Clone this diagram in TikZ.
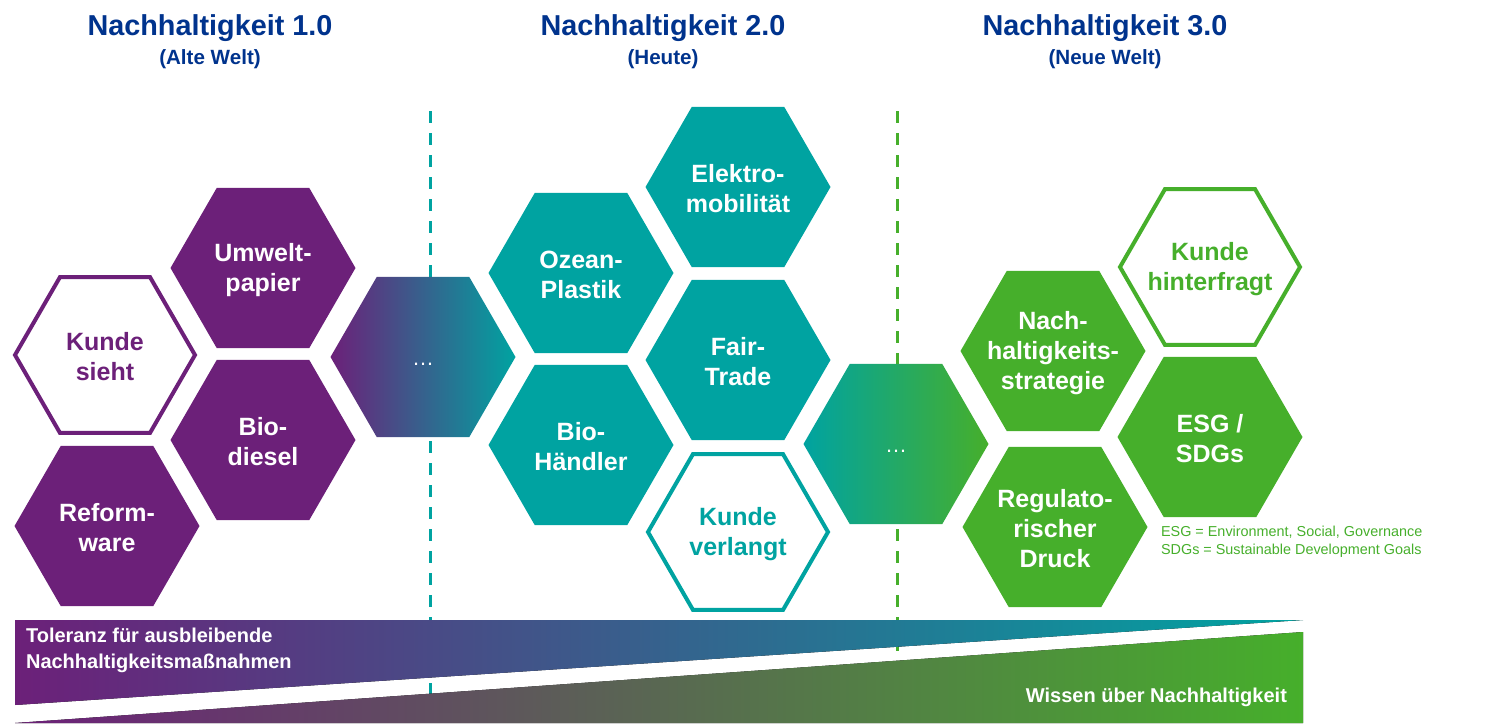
\documentclass[tikz,border=0pt]{standalone}
\usepackage{fontspec}
\setmainfont{Liberation Sans}
\usetikzlibrary{shapes.geometric}
\definecolor{nhPurple}{RGB}{108,32,121}
\definecolor{nhTeal}{RGB}{0,163,161}
\definecolor{nhGreen}{RGB}{70,175,43}
\definecolor{nhNavy}{RGB}{0,51,141}
\definecolor{nhGrey}{RGB}{92,86,80}

\begin{document}
\begin{tikzpicture}[x=0.5pt, y=-0.5pt,
  hex/.style={regular polygon, regular polygon sides=6, minimum size=92.5pt, inner sep=0pt},
  hexfull/.style={hex, fill=#1},
  hexring/.style={hex, draw=#1, fill=white, line width=2pt, minimum size=90pt},
  hexlbl/.style={font=\fontsize{12.5}{15}\selectfont\bfseries, align=center, text=#1, yshift=-1pt},
  divider/.style={draw=#1, line width=1.5pt, dash pattern=on 6pt off 5pt},
  title/.style={font=\fontsize{14.4}{17}\selectfont\bfseries, text=nhNavy},
  subtitle/.style={font=\fontsize{10.3}{12}\selectfont\bfseries, text=nhNavy}]
  \useasboundingbox (0,0) rectangle (1490,724);

  % headings
  \node[title] (t1) at (210,28) {Nachhaltigkeit 1.0};
  \node[subtitle] (s1) at (210,59) {(Alte Welt)};
  \node[title] (t2) at (663,28) {Nachhaltigkeit 2.0};
  \node[subtitle] (s2) at (663,59) {(Heute)};
  \node[title] (t3) at (1105,28) {Nachhaltigkeit 3.0};
  \node[subtitle] (s3) at (1105,59) {(Neue Welt)};

  % dividers
  \coordinate (d1a) at (430,111);
  \coordinate (d1b) at (430,695);
  \coordinate (d2a) at (897,111);
  \coordinate (d2b) at (897,661);
  \draw[divider=nhTeal] (d1a) -- (d1b);
  \draw[divider=nhGreen] (d2a) -- (d2b);

  % 1.0
  \foreach \nm/\px/\py/\txt in {umwelt/263/268/{Umwelt-\\papier},
      biodiesel/263/440/{Bio-\\diesel}, reform/107/526/{Reform-\\ware}}{
    \node[hexfull=nhPurple] (\nm) at (\px,\py) {};
    \node[hexlbl=white] (\nm-lbl) at (\nm) {\txt};
  }
  \node[hexring=nhPurple] (sieht) at (105,355) {};
  \node[hexlbl=nhPurple] (sieht-lbl) at (sieht) {Kunde\\sieht};

  % 2.0
  \foreach \nm/\px/\py/\txt in {emob/738/187/{Elektro-\\mobilität},
      ozean/581/273/{Ozean-\\Plastik}, fair/738/360/{Fair-\\Trade},
      biohandel/581/445/{Bio-\\Händler}}{
    \node[hexfull=nhTeal] (\nm) at (\px,\py) {};
    \node[hexlbl=white] (\nm-lbl) at (\nm) {\txt};
  }
  \node[hexring=nhTeal] (verlangt) at (738,532) {};
  \node[hexlbl=nhTeal] (verlangt-lbl) at (verlangt) {Kunde\\verlangt};

  % 3.0
  \foreach \nm/\px/\py/\txt in {strategie/1053/351/{Nach-\\haltigkeits-\\strategie},
      esg/1210/437/{ESG /\\SDGs}, druck/1055/527/{Regulato-\\rischer\\Druck}}{
    \node[hexfull=nhGreen] (\nm) at (\px,\py) {};
    \node[hexlbl=white] (\nm-lbl) at (\nm) {\txt};
  }
  \node[hexring=nhGreen] (hinterfragt) at (1210,267) {};
  \node[hexlbl=nhGreen] (hinterfragt-lbl) at (hinterfragt) {Kunde\\hinterfragt};

  % transitions
  \node[hex, left color=nhPurple, right color=nhTeal] (next1) at (423,357) {};
  \node[text=white, font=\fontsize{11}{12}\selectfont, yshift=-3.5pt] (next1-lbl) at (next1) {\ldots};
  \node[hex, left color=nhTeal, right color=nhGreen] (next2) at (896,444) {};
  \node[text=white, font=\fontsize{11}{12}\selectfont, yshift=-3.5pt] (next2-lbl) at (next2) {\ldots};

  \node[anchor=west, align=left, text=nhGreen, font=\fontsize{7.2}{9}\selectfont]
    (legende) at (1154,542) {ESG = Environment, Social, Governance\\SDGs = Sustainable Development Goals};

  % wedges
  \fill[left color=nhPurple, right color=nhTeal] (15,620) -- (1303,620) -- (15,705) -- cycle;
  \fill[left color=nhPurple, middle color=nhGrey, right color=nhGreen] (15,723) -- (1303,632) -- (1303,723) -- cycle;
  \node[anchor=west, align=left, text=white, font=\fontsize{10}{13}\selectfont\bfseries]
    (toleranz) at (19,650) {Toleranz für ausbleibende\\Nachhaltigkeitsmaßnahmen};
  \node[anchor=east, text=white, font=\fontsize{10}{13}\selectfont\bfseries]
    (wissen) at (1294,697) {Wissen über Nachhaltigkeit};
\end{tikzpicture}
\end{document}
